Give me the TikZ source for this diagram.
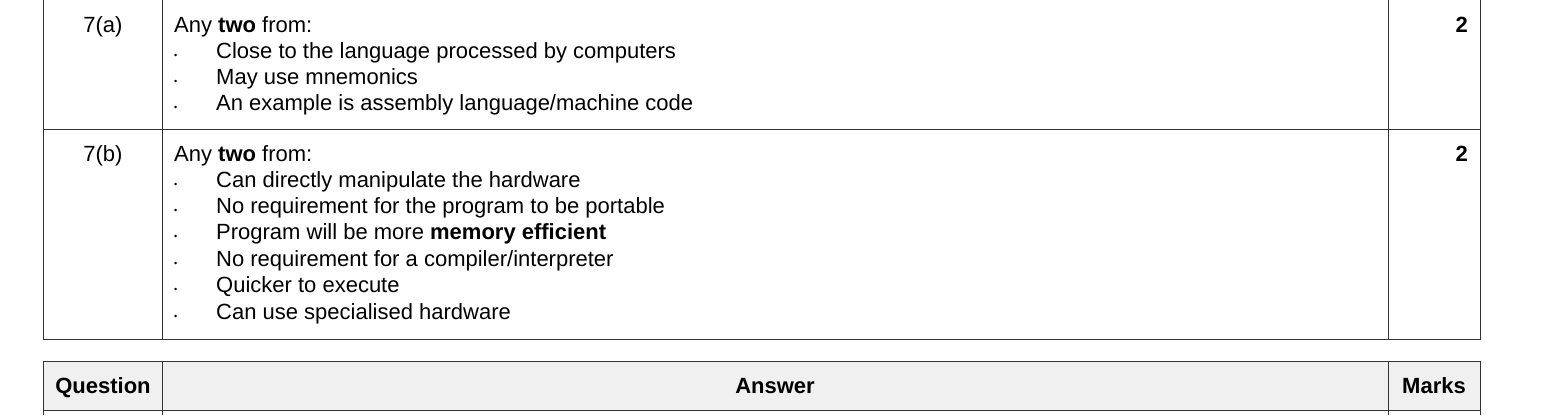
\documentclass[tikz,border=0pt]{standalone}
\usepackage{fontspec}
\setmainfont{Liberation Sans}
\begin{document}
\begin{tikzpicture}[x=1pt,y=-1pt,
  txt/.style={anchor=base west,inner sep=0pt,font=\fontsize{22}{24}\selectfont},
  ctr/.style={anchor=base,inner sep=0pt,font=\fontsize{22}{24}\selectfont},
  rt/.style={anchor=base east,inner sep=0pt,font=\fontsize{22}{24}\selectfont\bfseries},
  grid/.style={line width=0.9pt,black!80}]
\useasboundingbox (0,0) rectangle (1568,415);
% table 1
\draw[grid] (43,0) -- (43,339) -- (1480,339) -- (1480,0);
\draw[grid] (162,0) -- (162,339);
\draw[grid] (1388,0) -- (1388,339);
\draw[grid] (43,129) -- (1480,129);
% table 2
\fill[black!6] (43,361) rectangle (1480,410);
\draw[grid] (43,415) -- (43,361) -- (1480,361) -- (1480,415);
\draw[grid] (162,361) -- (162,415);
\draw[grid] (1388,361) -- (1388,415);
\draw[grid] (43,410) -- (1480,410);
\node[ctr,font=\fontsize{22}{24}\selectfont\bfseries] (hq) at (103,393) {Question};
\node[ctr,font=\fontsize{22}{24}\selectfont\bfseries] (ha) at (775,393) {Answer};
\node[ctr,font=\fontsize{22}{24}\selectfont\bfseries] (hm) at (1434,393) {Marks};
% row a
\node[ctr] (qa) at (103,32) {7(a)};
\node[rt] (ma) at (1468,32) {2};
\node[txt] (a0) at (174,32) {Any \textbf{two} from:};
\foreach \y/\t [count=\i] in {58/{Close to the language processed by computers},
  84/{May use mnemonics}, 110/{An example is assembly language/machine code}}{
  \node[txt] (ab\i) at (174,\y) {\small\textbullet};
  \node[txt] (at\i) at (216,\y) {\t};
}
% row b
\node[ctr] (qb) at (103,161) {7(b)};
\node[rt] (mb) at (1468,161) {2};
\node[txt] (b0) at (174,161) {Any \textbf{two} from:};
\foreach \y/\t [count=\i] in {187/{Can directly manipulate the hardware},
  213/{No requirement for the program to be portable},
  239/{Program will be more \textbf{memory efficient}},
  266/{No requirement for a compiler/interpreter},
  292/{Quicker to execute},
  319/{Can use specialised hardware}}{
  \node[txt] (bb\i) at (174,\y) {\small\textbullet};
  \node[txt] (bt\i) at (216,\y) {\t};
}
\end{tikzpicture}
\end{document}
